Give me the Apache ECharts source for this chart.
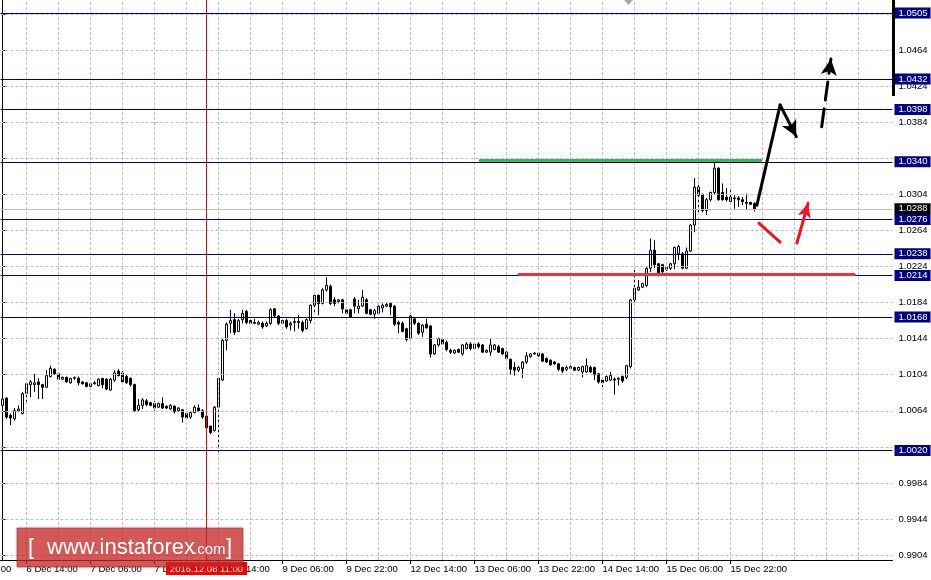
<!DOCTYPE html>
<html><head><meta charset="utf-8">
<script src="https://cdn.jsdelivr.net/npm/echarts@6/dist/echarts.min.js"></script>
<style>html,body{margin:0;padding:0;background:#fff}#c{width:931px;height:580px}</style>
</head><body><div id="c"></div>
<script>
// ---- categories: hourly bars from 6 Dec 2016 08:00 (weekend skipped) ----
const monthNames = ['Jan','Feb','Mar','Apr','May','Jun','Jul','Aug','Sep','Oct','Nov','Dec'];
const categories = (function () {
  const out = [];
  let t = Date.UTC(2016, 11, 6, 8);
  while (out.length < 223) {
    const d = new Date(t);
    const wd = d.getUTCDay();
    if (wd !== 0 && wd !== 6) {
      out.push(d.getUTCDate() + ' ' + monthNames[d.getUTCMonth()] + ' ' + String(d.getUTCHours()).padStart(2, '0') + ':00');
    }
    t += 3600000;
  }
  return out;
})();

// ---- OHLC values ----
const opens = [1.0070,1.0078,1.0059,1.0055,1.0064,1.0061,1.0083,1.0093,1.0093,1.0096,
1.0093,1.0090,1.0102,1.0110,1.0105,1.0099,1.0101,1.0095,1.0100,1.0100,
1.0096,1.0095,1.0091,1.0094,1.0092,1.0100,1.0099,1.0087,1.0098,1.0108,
1.0106,1.0102,1.0100,1.0093,1.0065,1.0070,1.0075,1.0073,1.0072,1.0068,
1.0072,1.0069,1.0066,1.0069,1.0064,1.0065,1.0061,1.0057,1.0062,1.0067,
1.0064,1.0058,1.0047,1.0042,1.0068,1.0098,1.0142,1.0161,1.0165,1.0152,
1.0165,1.0174,1.0164,1.0162,1.0160,1.0161,1.0158,1.0161,1.0177,1.0169,
1.0161,1.0164,1.0159,1.0162,1.0163,1.0162,1.0155,1.0164,1.0181,1.0192,
1.0183,1.0198,1.0202,1.0187,1.0185,1.0187,1.0176,1.0176,1.0188,1.0177,
1.0180,1.0187,1.0176,1.0171,1.0172,1.0178,1.0180,1.0183,1.0180,1.0162,
1.0161,1.0155,1.0144,1.0166,1.0161,1.0151,1.0160,1.0158,1.0127,1.0137,
1.0143,1.0140,1.0131,1.0128,1.0132,1.0127,1.0133,1.0138,1.0133,1.0138,
1.0137,1.0129,1.0129,1.0132,1.0135,1.0133,1.0129,1.0121,1.0112,1.0109,
1.0111,1.0118,1.0124,1.0127,1.0128,1.0127,1.0122,1.0120,1.0118,1.0116,
1.0112,1.0110,1.0111,1.0112,1.0109,1.0107,1.0107,1.0112,1.0112,1.0105,
1.0098,1.0097,1.0098,1.0099,1.0099,1.0102,1.0101,1.0113,1.0187,1.0198,
1.0201,1.0203,1.0222,1.0242,1.0227,1.0226,1.0221,1.0222,1.0227,1.0238,
1.0238,1.0222,1.0241,1.0270,1.0312,1.0304,1.0286,1.0298,1.0306,1.0333,
1.0306,1.0301,1.0296,1.0300,1.0300,1.0298,1.0295,1.0295,1.0294];
const closes = [1.0077,1.0057,1.0056,1.0064,1.0066,1.0083,1.0094,1.0096,1.0095,1.0093,
1.0090,1.0103,1.0111,1.0105,1.0099,1.0101,1.0096,1.0100,1.0101,1.0095,
1.0094,1.0091,1.0094,1.0095,1.0099,1.0093,1.0088,1.0099,1.0106,1.0103,
1.0096,1.0095,1.0093,1.0064,1.0070,1.0076,1.0071,1.0070,1.0067,1.0072,
1.0067,1.0067,1.0070,1.0063,1.0067,1.0057,1.0056,1.0062,1.0068,1.0064,
1.0057,1.0045,1.0040,1.0068,1.0100,1.0142,1.0160,1.0164,1.0151,1.0164,
1.0172,1.0162,1.0161,1.0161,1.0162,1.0157,1.0161,1.0176,1.0169,1.0161,
1.0164,1.0157,1.0161,1.0163,1.0162,1.0153,1.0165,1.0181,1.0192,1.0183,
1.0198,1.0203,1.0183,1.0183,1.0187,1.0177,1.0172,1.0168,1.0180,1.0180,
1.0190,1.0172,1.0171,1.0175,1.0180,1.0181,1.0182,1.0179,1.0160,1.0160,
1.0152,1.0143,1.0169,1.0161,1.0150,1.0159,1.0156,1.0127,1.0137,1.0144,
1.0138,1.0132,1.0129,1.0131,1.0129,1.0137,1.0138,1.0133,1.0138,1.0135,
1.0129,1.0131,1.0137,1.0137,1.0129,1.0127,1.0122,1.0110,1.0109,1.0112,
1.0118,1.0125,1.0127,1.0128,1.0125,1.0119,1.0118,1.0115,1.0116,1.0110,
1.0108,1.0112,1.0113,1.0109,1.0112,1.0113,1.0114,1.0107,1.0104,1.0096,
1.0095,1.0102,1.0103,1.0098,1.0100,1.0097,1.0114,1.0187,1.0200,1.0201,
1.0205,1.0222,1.0242,1.0226,1.0217,1.0218,1.0223,1.0227,1.0245,1.0246,
1.0222,1.0241,1.0270,1.0312,1.0303,1.0286,1.0298,1.0306,1.0333,1.0298,
1.0298,1.0298,1.0301,1.0299,1.0298,1.0296,1.0294,1.0293,1.0288];
const lows = [1.0068,1.0055,1.0048,1.0053,1.0063,1.0060,1.0074,1.0079,1.0085,1.0077,
1.0077,1.0090,1.0101,1.0104,1.0098,1.0098,1.0095,1.0094,1.0098,1.0092,
1.0093,1.0090,1.0090,1.0093,1.0091,1.0089,1.0087,1.0086,1.0096,1.0102,
1.0095,1.0094,1.0091,1.0063,1.0063,1.0066,1.0069,1.0069,1.0064,1.0067,
1.0066,1.0066,1.0065,1.0061,1.0063,1.0051,1.0054,1.0055,1.0061,1.0063,
1.0055,1.0043,1.0038,1.0041,1.0018,1.0097,1.0131,1.0150,1.0148,1.0151,
1.0161,1.0160,1.0159,1.0160,1.0159,1.0155,1.0157,1.0159,1.0168,1.0159,
1.0159,1.0155,1.0153,1.0152,1.0155,1.0151,1.0154,1.0161,1.0173,1.0170,
1.0182,1.0196,1.0181,1.0180,1.0183,1.0172,1.0171,1.0167,1.0172,1.0172,
1.0179,1.0171,1.0170,1.0166,1.0171,1.0173,1.0179,1.0170,1.0158,1.0150,
1.0151,1.0141,1.0142,1.0159,1.0148,1.0146,1.0155,1.0123,1.0126,1.0135,
1.0137,1.0130,1.0127,1.0127,1.0128,1.0125,1.0132,1.0131,1.0132,1.0133,
1.0128,1.0128,1.0125,1.0131,1.0128,1.0126,1.0120,1.0104,1.0103,1.0107,
1.0100,1.0116,1.0123,1.0126,1.0124,1.0118,1.0117,1.0114,1.0115,1.0108,
1.0106,1.0108,1.0110,1.0108,1.0108,1.0101,1.0106,1.0106,1.0098,1.0094,
1.0090,1.0096,1.0097,1.0082,1.0092,1.0095,1.0099,1.0111,1.0181,1.0197,
1.0200,1.0201,1.0218,1.0222,1.0213,1.0216,1.0219,1.0220,1.0221,1.0231,
1.0221,1.0221,1.0240,1.0262,1.0281,1.0284,1.0281,1.0296,1.0304,1.0297,
1.0297,1.0296,1.0294,1.0288,1.0290,1.0292,1.0287,1.0292,1.0285];
const highs = [1.0079,1.0079,1.0061,1.0067,1.0070,1.0085,1.0096,1.0098,1.0105,1.0100,
1.0094,1.0109,1.0114,1.0111,1.0106,1.0102,1.0102,1.0100,1.0102,1.0102,
1.0097,1.0096,1.0095,1.0097,1.0100,1.0100,1.0100,1.0100,1.0109,1.0110,
1.0108,1.0104,1.0101,1.0094,1.0077,1.0078,1.0077,1.0074,1.0075,1.0073,
1.0079,1.0070,1.0071,1.0070,1.0068,1.0066,1.0062,1.0063,1.0070,1.0071,
1.0066,1.0058,1.0047,1.0069,1.0101,1.0144,1.0162,1.0176,1.0172,1.0166,
1.0176,1.0176,1.0165,1.0166,1.0164,1.0163,1.0163,1.0178,1.0178,1.0170,
1.0165,1.0166,1.0163,1.0168,1.0170,1.0164,1.0166,1.0182,1.0194,1.0193,
1.0200,1.0212,1.0204,1.0190,1.0188,1.0188,1.0178,1.0177,1.0190,1.0187,
1.0198,1.0189,1.0177,1.0177,1.0181,1.0183,1.0184,1.0184,1.0181,1.0164,
1.0163,1.0156,1.0172,1.0168,1.0162,1.0160,1.0166,1.0159,1.0138,1.0145,
1.0144,1.0142,1.0133,1.0132,1.0133,1.0138,1.0140,1.0140,1.0140,1.0140,
1.0138,1.0132,1.0144,1.0138,1.0137,1.0134,1.0130,1.0122,1.0118,1.0114,
1.0119,1.0129,1.0128,1.0129,1.0129,1.0128,1.0123,1.0121,1.0119,1.0117,
1.0113,1.0114,1.0114,1.0113,1.0113,1.0114,1.0122,1.0114,1.0113,1.0106,
1.0099,1.0103,1.0107,1.0101,1.0101,1.0103,1.0115,1.0188,1.0222,1.0209,
1.0206,1.0223,1.0255,1.0253,1.0228,1.0227,1.0224,1.0228,1.0246,1.0248,
1.0240,1.0245,1.0271,1.0322,1.0318,1.0305,1.0300,1.0307,1.0340,1.0334,
1.0316,1.0311,1.0312,1.0303,1.0302,1.0301,1.0305,1.0296,1.0295];

// ---- axis ticks and horizontal levels ----
const yTicks = [0.9904,0.9944,0.9984,1.0024,1.0064,1.0104,1.0144,1.0184,1.0224,1.0264,1.0304,1.0344,1.0384,1.0424,1.0464,1.0504];
const levelLines = [1.0505,1.0432,1.0398,1.0340,1.0276,1.0238,1.0214,1.0168,1.0020];
const bidPrice = 1.0288;
const markerBar = 51;
const markerLabel = '2016.12.08 11:00';
const leftCutLabel = '5 Dec 22:00';

// ---- annotations in data coordinates [bar index, price] ----
const greenSegment = [[119.4, 1.0342], [189.6, 1.0342]];
const redSegment = [[129.1, 1.0215], [212.9, 1.0215]];
const blackUp = [[188.6, 1.0292], [194.4, 1.0403]];
const blackDown = [[194.4, 1.0403], [198.45, 1.0368]];
const blackDashed = [[204.8, 1.0379], [207.1, 1.0454]];
const redDip = [[189.1, 1.0272], [194.4, 1.0251]];
const redUp = [[198.6, 1.0250], [201.4, 1.0294]];

const lastBar = opens.length - 1;
const FONT = '"Liberation Sans", Arial, sans-serif';
const labelEvery = (i) => i % 16 === 6 && i <= lastBar;
const gridCols = [];
for (let k = 6; k <= 214; k += 8) gridCols.push(k);

const candles = opens.map((o, i) => [o, closes[i], lows[i], highs[i]]);

// tick labels that sit under a level's price box are hidden, as in the terminal
const hiddenUnderBox = (v) => levelLines.some(l => Math.abs(l - v) < 0.00045);

function seg(p, color, width, type, endSymbol, size) {
  return [
    { coord: p[0], symbol: 'none', lineStyle: { color: color, width: width, type: type || 'solid', cap: 'round' } },
    { coord: p[1], symbol: endSymbol || 'none', symbolSize: size || 10, itemStyle: { color: color } }
  ];
}

const levelLabel = {
  show: true, position: 'end', distance: 2, color: '#fff', backgroundColor: '#000080',
  fontSize: 9.5, fontFamily: FONT, padding: [1, 3, 0, 4], lineHeight: 10
};

const option = {
  animation: false,
  backgroundColor: '#fff',
  grid: { left: 0.5, right: 38.5, top: 0, bottom: 20 },
  xAxis: [{
    type: 'category', data: categories, boundaryGap: true,
    axisLine: { show: true, lineStyle: { color: '#000', width: 1 } },
    axisTick: { show: true, alignWithLabel: true, interval: labelEvery, length: 4, lineStyle: { color: '#000' } },
    axisLabel: { interval: labelEvery, align: 'left', margin: 4, fontSize: 9.5, fontFamily: FONT, color: '#000' },
    splitLine: { show: false }
  }, {
    type: 'value', min: -0.5, max: 222.5, show: false
  }],
  yAxis: {
    type: 'value', position: 'right', min: 0.98985, max: 1.05195,
    axisLine: { show: true, lineStyle: { color: '#000', width: 1 } },
    axisTick: { show: true, customValues: yTicks, length: 3, lineStyle: { color: '#000' } },
    axisLabel: { customValues: yTicks, formatter: (v) => hiddenUnderBox(v) ? '' : v.toFixed(4),
                 margin: 6, fontSize: 9.5, fontFamily: FONT, color: '#000' },
    splitLine: { show: false }
  },
  series: [
    {
      type: 'line', xAxisIndex: 1, data: [], z: 1, silent: true, clip: false,
      markLine: {
        silent: true, symbol: 'none', label: { show: false }, animation: false, precision: 6,
        lineStyle: { color: '#c0c0c0', width: 1, type: [3, 2] },
        emphasis: { disabled: true },
        data: yTicks.map(v => ({ yAxis: v })).concat(gridCols.map(k => ({ xAxis: k })))
      }
    },
    {
      type: 'candlestick', data: candles, z: 3, barWidth: 3,
      itemStyle: { color: '#fff', color0: '#000', borderColor: '#000', borderColor0: '#000', borderWidth: 1 }
    },
    {
      type: 'line', xAxisIndex: 1, data: [], z: 4, silent: true, clip: false,
      markLine: {
        silent: true, symbol: 'none', animation: false, emphasis: { disabled: true }, precision: 6,
        lineStyle: { color: '#000080', width: 1, type: 'solid' },
        data: levelLines.map(v => ({ yAxis: v, label: Object.assign({}, levelLabel, { formatter: v.toFixed(4) }) }))
          .concat([
            { yAxis: bidPrice, lineStyle: { color: '#c0c0c0', width: 1, type: 'solid' },
              label: Object.assign({}, levelLabel, { backgroundColor: '#000', formatter: bidPrice.toFixed(4) }) },
            { xAxis: markerBar, lineStyle: { color: '#ff0000', width: 1, type: 'solid' },
              label: { show: true, position: 'start', distance: 2, formatter: markerLabel, color: '#fff',
                       backgroundColor: '#ff0000', fontSize: 9.5, fontFamily: FONT, padding: [2, 4, 1, 4] } }
          ])
      }
    },
    {
      type: 'line', xAxisIndex: 1, data: [], z: 5, silent: true, clip: false,
      markLine: {
        silent: true, symbol: 'none', animation: false, emphasis: { disabled: true }, precision: 6,
        label: { show: false },
        data: [
          seg(greenSegment, '#3bb454', 3),
          seg(redSegment, '#ec3340', 3),
          seg(blackUp, '#000', 3),
          seg(blackDown, '#000', 3, 'solid', 'arrow', [12, 16]),
          seg(blackDashed, '#000', 3, [18, 9], 'arrow', [12, 16]),
          seg(redDip, '#f0141e', 3),
          seg(redUp, '#f0141e', 3, 'solid', 'arrow', [10, 14])
        ]
      }
    }
  ],
  graphic: [
    { type: 'rect', shape: { x: 892, y: 0, width: 3, height: 96 }, style: { fill: '#000' }, z: 50, silent: true },
    { type: 'polygon', shape: { points: [[624, 0], [633, 0], [628.5, 5]] }, style: { fill: '#a8a8a8' }, z: 50, silent: true },
    { type: 'text', x: -40, y: 569.5, style: { text: leftCutLabel, fill: '#000', font: '9.5px ' + FONT, verticalAlign: 'middle' }, z: 50, silent: true },
    { type: 'rect', shape: { x: 17, y: 528, width: 226, height: 39 },
      style: { fill: 'rgba(212,42,42,0.72)', stroke: 'rgba(170,30,30,0.5)', lineWidth: 1, shadowBlur: 3, shadowColor: 'rgba(0,0,0,0.25)' }, z: 100, silent: true },
    { type: 'text', x: 28, y: 548, style: { text: '[', fill: '#fff', font: '22px ' + FONT, verticalAlign: 'middle' }, z: 101, silent: true },
    { type: 'text', x: 47, y: 548, style: { text: 'www.instaforex', fill: '#fff', font: '22px ' + FONT, verticalAlign: 'middle' }, z: 101, silent: true },
    { type: 'text', x: 193, y: 550, style: { text: '.com', fill: '#fff', font: '15px ' + FONT, verticalAlign: 'middle' }, z: 101, silent: true },
    { type: 'text', x: 226, y: 548, style: { text: ']', fill: '#fff', font: '22px ' + FONT, verticalAlign: 'middle' }, z: 101, silent: true }
  ]
};

const chart = echarts.init(document.getElementById('c'), null, { renderer: 'canvas' });
chart.setOption(option);
</script></body></html>
